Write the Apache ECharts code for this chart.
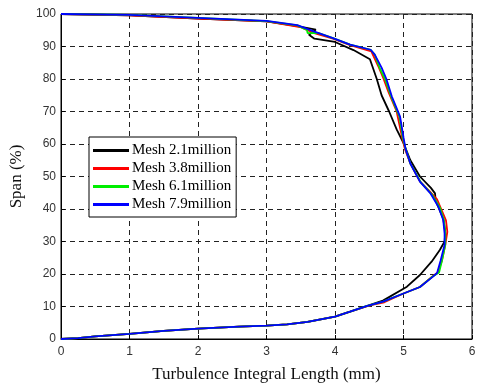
<!DOCTYPE html>
<html><head><meta charset="utf-8">
<script src="https://cdn.jsdelivr.net/npm/echarts@6/dist/echarts.min.js"></script>
<style>html,body{margin:0;padding:0;background:#fff}#c{width:479px;height:388px}</style>
</head><body><div id="c"></div>
<script>
var seriesNames = ['Mesh 2.1million', 'Mesh 3.8million', 'Mesh 6.1million', 'Mesh 7.9million'];
var xTicks = [0, 1, 2, 3, 4, 5, 6];
var yTicks = [0, 10, 20, 30, 40, 50, 60, 70, 80, 90, 100];
// [turbulence integral length (mm), span (%)]
var mesh21 = [[0,0],[0.25,0.3],[0.5,0.8],[1.0,1.6],[1.5,2.5],[2.0,3.2],[2.6,3.8],[3.0,4.1],[3.3,4.5],[3.6,5.3],[4.0,6.9],[4.22,8.4],[4.46,10.1],[4.7,11.8],[5.05,16.1],[5.24,19.7],[5.41,23.8],[5.53,27.4],[5.6,30],[5.61,33],[5.58,37],[5.52,40],[5.47,42.5],[5.46,44.8],[5.4,46.5],[5.24,50],[5.1,55],[5.0,60.3],[4.9,64.5],[4.79,70],[4.68,75],[4.61,80],[4.51,86.1],[4.27,88.9],[4.0,91.4],[3.7,92.4],[3.62,93.6],[3.72,95.2],[3.45,96.3],[3.0,97.7],[2.0,98.6],[1.0,99.6],[0,100]];
var mesh38 = [[0,0],[0.25,0.3],[0.5,0.8],[1.0,1.6],[1.5,2.5],[2.0,3.2],[2.6,3.8],[3.0,4.1],[3.3,4.5],[3.6,5.3],[4.0,6.9],[4.22,8.4],[4.46,10.0],[4.56,10.6],[4.72,11.3],[5.0,14.0],[5.24,16.0],[5.43,19.4],[5.5,20.5],[5.56,24.0],[5.61,29.0],[5.64,33],[5.62,36.5],[5.55,40],[5.49,43],[5.38,45.5],[5.24,48.5],[5.1,54.0],[5.02,58.5],[4.98,62],[4.9,70],[4.78,76],[4.71,80],[4.63,84],[4.53,88.5],[4.22,90.4],[3.97,92.4],[3.71,94.0],[3.49,96.0],[3.0,97.7],[2.0,98.6],[1.0,99.6],[0,100]];
var mesh61 = [[0,0],[0.25,0.3],[0.5,0.8],[1.0,1.6],[1.5,2.5],[2.0,3.2],[2.6,3.8],[3.0,4.1],[3.3,4.5],[3.6,5.3],[4.0,6.9],[4.22,8.4],[4.46,10.1],[4.7,11.5],[5.0,14.0],[5.24,16.0],[5.43,19.3],[5.52,20.5],[5.56,24.0],[5.61,29.0],[5.61,32.5],[5.59,36.6],[5.53,40.5],[5.41,44.6],[5.25,48.3],[5.1,54.0],[5.03,58.5],[4.99,62],[4.94,68.4],[4.82,74.6],[4.73,80],[4.66,83],[4.58,87.5],[4.52,89],[4.22,90.6],[3.97,92.6],[3.75,94.2],[3.6,94.1],[3.59,95.1],[3.45,96.5],[3.0,97.8],[2.0,98.8],[1.0,99.7],[0,100]];
var mesh79 = [[0,0],[0.25,0.3],[0.5,0.8],[1.0,1.6],[1.5,2.5],[2.0,3.2],[2.6,3.8],[3.0,4.1],[3.3,4.5],[3.6,5.3],[4.0,6.9],[4.22,8.4],[4.46,10.1],[4.7,11.5],[5.0,14.0],[5.24,16.0],[5.43,19.2],[5.49,20.3],[5.54,24.0],[5.6,29.0],[5.6,32.5],[5.58,36.6],[5.51,40.7],[5.39,44.9],[5.24,48.4],[5.1,54.0],[5.03,58.5],[5.0,62],[4.95,68.4],[4.83,74.6],[4.75,80],[4.68,83.5],[4.58,87.5],[4.52,89],[4.22,90.6],[3.97,92.6],[3.7,94.6],[3.45,96.6],[3.0,97.9],[2.0,98.8],[1.0,99.7],[0,100]];
var seriesData = [mesh21, mesh38, mesh61, mesh79];
var colors = ['#000000', '#ff0000', '#00ee00', '#0000ff'];

var chart = echarts.init(document.getElementById('c'), null, {renderer: 'canvas'});
var gridLine = {show: true, lineStyle: {color: '#222', type: [5, 4], width: 1}};
chart.setOption({
  animation: false,
  backgroundColor: '#fff',
  grid: {left: 61, right: 7, top: 14, bottom: 49, show: true, borderColor: '#000', borderWidth: 1, backgroundColor: 'transparent'},
  legend: {
    data: seriesNames, orient: 'vertical', left: 89, top: 137,
    backgroundColor: '#fff', borderColor: '#000', borderWidth: 1, padding: [6, 5, 5, 4],
    itemWidth: 36, itemHeight: 3, itemGap: 3,
    icon: 'rect',
    textStyle: {fontFamily: 'Liberation Serif', fontSize: 15, color: '#000', padding: [0, 0, 0, -2]}
  },
  xAxis: {
    type: 'value', min: 0, max: 6, interval: 1,
    name: 'Turbulence Integral Length (mm)', nameLocation: 'middle', nameGap: 27,
    nameTextStyle: {fontFamily: 'Liberation Serif', fontSize: 17, color: '#111'},
    axisLine: {show: true, lineStyle: {color: '#000'}},
    axisTick: {show: true, inside: true, length: 4, lineStyle: {color: '#000'}},
    axisLabel: {fontFamily: 'Liberation Sans', fontSize: 12, color: '#333', margin: 7},
    splitLine: gridLine
  },
  yAxis: {
    type: 'value', min: 0, max: 100, interval: 10,
    name: 'Span (%)', nameLocation: 'middle', nameGap: 29,
    nameTextStyle: {fontFamily: 'Liberation Serif', fontSize: 17, color: '#111'},
    axisLine: {show: true, lineStyle: {color: '#000'}},
    axisTick: {show: true, inside: true, length: 4, lineStyle: {color: '#000'}},
    axisLabel: {fontFamily: 'Liberation Sans', fontSize: 12, color: '#333', margin: 5},
    splitLine: gridLine
  },
  series: seriesData.map(function (d, i) {
    return {
      name: seriesNames[i], type: 'line', data: d, showSymbol: false, symbol: 'none',
      color: colors[i], lineStyle: {width: 1.8, color: colors[i]}, z: 2 + i
    };
  })
});
</script></body></html>
